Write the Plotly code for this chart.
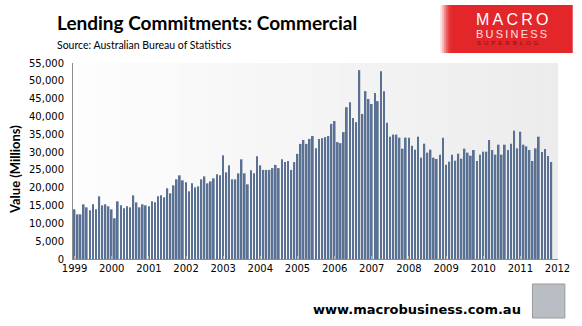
import plotly.graph_objects as go
import pandas as pd

# ---- data (Value, $ millions), monthly Jan 1999 - Nov 2011 ----
values_1999 = [13930, 12540, 12540, 15340, 14500, 13660, 15340, 13930, 17590, 15060, 15340, 14780]
values_2000 = [13930, 11410, 16180, 15060, 14220, 14780, 14500, 17870, 15900, 14500, 15340, 15060]
values_2001 = [14780, 16180, 15900, 17590, 17870, 17310, 19830, 18430, 20670, 22350, 23480, 22070]
values_2002 = [21510, 18990, 21230, 20110, 20390, 22350, 23190, 21230, 21790, 22630, 23760, 23480]
values_2003 = [29090, 24320, 26290, 22350, 22350, 24040, 27970, 24040, 20950, 24880, 24040, 28810]
values_2004 = [26290, 25000, 25000, 25000, 25500, 26400, 25500, 28000, 27200, 27500, 25000, 27200]
values_2005 = [29500, 32300, 33400, 32300, 33700, 34500, 31100, 33700, 33900, 34200, 34500, 37900]
values_2006 = [38700, 32800, 32500, 35600, 42600, 44000, 39600, 38400, 53000, 40700, 47100, 44900]
values_2007 = [43500, 46600, 44300, 52700, 47100, 38250, 34330, 34900, 34900, 34050, 30960, 34050]
values_2008 = [34050, 31800, 30680, 34330, 28430, 32360, 29840, 30680, 28430, 28060, 29280, 34050]
values_2009 = [26470, 27310, 29280, 27590, 29560, 28150, 30960, 29840, 28990, 30590, 27500, 29280]
values_2010 = [30120, 30120, 33390, 30590, 29280, 32080, 29280, 32080, 30590, 32360, 36010, 31050]
values_2011 = [35730, 32080, 31610, 30590, 27500, 31050, 34330, 30020, 30870, 28900, 27220]

values = (values_1999 + values_2000 + values_2001 + values_2002 + values_2003 + values_2004 +
          values_2005 + values_2006 + values_2007 + values_2008 + values_2009 + values_2010 +
          values_2011)
months = pd.date_range("1999-01-01", periods=len(values), freq="MS")

year_ticks = [f"{y}-01-01" for y in range(1999, 2013)]
year_labels = [str(y) for y in range(1999, 2013)]
y_ticks = list(range(0, 55001, 5000))

title_text = "Lending Commitments: Commercial"
subtitle_text = "Source: Australian Bureau of Statistics"
ytitle_text = "Value (Millions)"
footer_text = "www.macrobusiness.com.au"

# ---- layout geometry (pixels) ----
W, H = 582, 326
L, R, T, B = 73, 567, 63, 259


def px(x):
    return (x - L) / (R - L)


def py(y):
    return (B - y) / (B - T)


fig = go.Figure()
fig.add_trace(go.Bar(
    x=months, y=values,
    marker=dict(color="#5a7194", line=dict(width=0)),
    hoverinfo="x+y",
))

shapes = []
# gradient plot background
n = 40
for i in range(n):
    t = i / (n - 1)
    c = int(round(253 - t * 17))
    shapes.append(dict(type="rect", xref="x domain", yref="y domain",
                       x0=i / n, x1=(i + 1) / n, y0=0, y1=1,
                       fillcolor=f"rgb({c},{c},{c})", line=dict(width=0), layer="below"))

# logo block (soft left edge, then solid red)
logo_x0, logo_x1, logo_y0, logo_y1 = 447, 582, 5, 53
edge_cols = ["#fbe3e3", "#f6b5b6", "#ef8283", "#e9575a", "#e53a3d", "#e3292d"]
for i, col in enumerate(edge_cols):
    shapes.append(dict(type="rect", xref="paper", yref="paper",
                       x0=px(logo_x0 + i * 2), x1=px(logo_x0 + (i + 1) * 2),
                       y0=py(logo_y1), y1=py(logo_y0),
                       fillcolor=col, line=dict(width=0), layer="above"))
shapes.append(dict(type="rect", xref="paper", yref="paper",
                   x0=px(logo_x0 + len(edge_cols) * 2), x1=px(logo_x1),
                   y0=py(logo_y1), y1=py(logo_y0),
                   fillcolor="#e3262a", line=dict(width=0), layer="above"))
# wolf picture placeholder
shapes.append(dict(type="rect", xref="paper", yref="paper",
                   x0=px(541), x1=px(574), y0=py(318), y1=py(284),
                   fillcolor="#b9bdc4", line=dict(width=1, color="#9a9a9a"), layer="above"))

annotations = [
    dict(text=f"<b>{title_text}</b>", xref="paper", yref="paper", x=px(55), y=py(22),
         xanchor="left", yanchor="middle", showarrow=False,
         font=dict(family="Lato", size=19, color="#000000")),
    dict(text=subtitle_text, xref="paper", yref="paper", x=px(55), y=py(45),
         xanchor="left", yanchor="middle", showarrow=False,
         font=dict(family="Lato", size=10.5, color="#000000")),
    dict(text=f"<b>{ytitle_text}</b>", xref="paper", yref="paper", x=px(14), y=py(170),
         xanchor="center", yanchor="middle", showarrow=False, textangle=-90,
         font=dict(family="Lato", size=13, color="#000000")),
    dict(text=f"<b>{footer_text}</b>", xref="paper", yref="paper", x=px(423), y=py(309),
         xanchor="center", yanchor="middle", showarrow=False,
         font=dict(family="DejaVu Sans", size=13, color="#000000")),
    dict(text="M\u2009A\u2009C\u2009R\u2009O", xref="paper", yref="paper", x=px(481), y=py(20),
         xanchor="left", yanchor="middle", showarrow=False,
         font=dict(family="Liberation Sans", size=16, color="#ffffff")),
    dict(text="B\u2009U\u2009S\u2009I\u2009N\u2009E\u2009S\u2009S", xref="paper", yref="paper",
         x=px(481), y=py(34), xanchor="left", yanchor="middle", showarrow=False,
         font=dict(family="Liberation Sans", size=11, color="#fbe0e0")),
    dict(text="S\u2002U\u2002P\u2002E\u2002R\u2002B\u2002L\u2002O\u2002G", xref="paper", yref="paper",
         x=px(482), y=py(43), xanchor="left", yanchor="middle", showarrow=False,
         font=dict(family="Liberation Sans", size=6, color="#7e1414")),
]

fig.update_layout(
    width=W, height=H,
    margin=dict(l=L, r=W - R, t=T, b=H - B, pad=0),
    paper_bgcolor="#ffffff",
    plot_bgcolor="#f4f4f4",
    showlegend=False,
    bargap=0.38,
    shapes=shapes,
    annotations=annotations,
    xaxis=dict(
        type="date",
        range=["1998-12-17", "2012-01-06"],
        tickmode="array", tickvals=year_ticks, ticktext=year_labels,
        showgrid=False, zeroline=False,
        showline=True, linecolor="#8c8c8c", linewidth=1,
        ticks="inside", ticklen=3, tickcolor="#b0b0b0",
        tickfont=dict(family="DejaVu Sans", size=10, color="#000000"),
    ),
    yaxis=dict(
        range=[0, 55000],
        tickmode="array", tickvals=y_ticks,
        tickformat=",",
        showgrid=False, zeroline=False,
        showline=True, linecolor="#8c8c8c", linewidth=1,
        ticks="", ticklabelstandoff=6,
        tickfont=dict(family="DejaVu Sans", size=10, color="#000000"),
    ),
)

fig.write_html("out.html")
